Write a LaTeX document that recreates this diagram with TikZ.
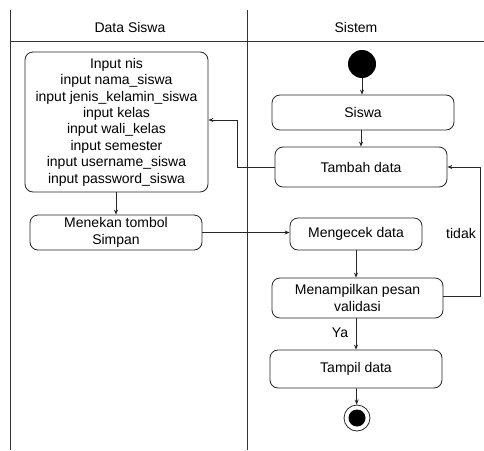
\documentclass[tikz,border=0pt]{standalone}
\usepackage{fontspec}
\setmainfont{Liberation Sans}
\usetikzlibrary{arrows.meta}
\begin{document}
\begin{tikzpicture}[x=1pt,y=-1pt,
  act/.style={draw=black!85, line width=0.8pt, rounded corners=8pt, align=center, inner sep=0pt, font=\fontsize{14}{16.4}\selectfont},
  conn/.style={draw=black!85, line width=0.8pt, -{Stealth[length=5pt,width=4pt]}},
  lane/.style={draw=black!80, line width=1pt},
  lbl/.style={font=\fontsize{14}{16}\selectfont, inner sep=0pt}]
\useasboundingbox (0,0) rectangle (484,450);
% swimlanes
\draw[lane] (10,10) -- (10,450);
\draw[lane] (247,10) -- (247,450);
\draw[lane] (10,41) -- (484,41);
\node[lbl] (h1) at (130,27) {Data Siswa};
\node[lbl] (h2) at (356,27) {Sistem};
% nodes
\node[circle, fill=black, minimum size=28pt, inner sep=0pt] (init) at (362,64) {};
\node[act, minimum width=182pt, minimum height=35pt] (siswa) at (363,112.5) {Siswa};
\node[act, minimum width=172pt, minimum height=40pt] (tambah) at (361,167) {Tambah data};
\node[act, minimum width=183pt, minimum height=140pt] (input) at (116.5,122) {Input nis\\input nama\_siswa\\input jenis\_kelamin\_siswa\\input kelas\\input wali\_kelas\\input semester\\input username\_siswa\\input password\_siswa};
\node[act, minimum width=172pt, minimum height=35pt] (menekan) at (116,232.5) {Menekan tombol\\Simpan};
\node[act, minimum width=132pt, minimum height=32pt] (cek) at (356,234) {Mengecek data};
\node[act, minimum width=171pt, minimum height=40pt] (pesan) at (357.5,298) {Menampilkan pesan\\validasi};
\node[act, minimum width=172pt, minimum height=38pt] (tampil) at (356,369) {Tampil data};
\node[circle, draw=black!85, line width=0.8pt, minimum size=26pt, inner sep=0pt] (final) at (357,418) {};
\node[circle, fill=black, minimum size=17pt, inner sep=0pt] (finalin) at (final) {};
% connectors
\coordinate (c1) at (237,167);
\coordinate (c2) at (237,120);
\coordinate (c3) at (480,296);
\coordinate (c4) at (480,167);
\draw[conn] (init) -- (siswa.north -| init);
\draw[conn] (siswa.south -| tambah) -- (tambah);
\draw[conn] (tambah.west) -- (c1) -- (c2) -- (c2 -| input.east);
\draw[conn] (input.south -| menekan) -- (menekan);
\draw[conn] (menekan.east) -- (menekan.east -| cek.west);
\draw[conn] (cek.south) -- (cek.south |- pesan.north);
\draw[conn] (pesan.east |- c3) -- (c3) -- (c4) -- (tambah.east);
\draw[conn] (pesan.south -| tampil) -- (tampil);
\draw[conn] (tampil) -- (final);
\node[lbl] (tidak) at (461,233) {tidak};
\node[lbl] (ya) at (340,333) {Ya};
\end{tikzpicture}
\end{document}
